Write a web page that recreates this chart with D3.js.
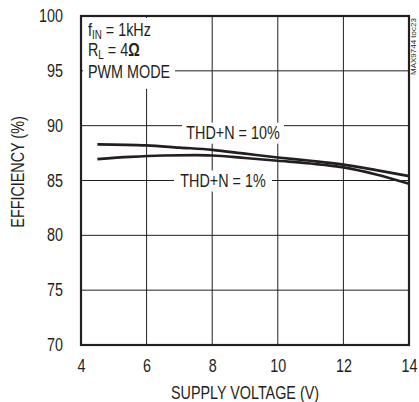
<!DOCTYPE html>
<html><head><meta charset="utf-8">
<script src="https://cdn.jsdelivr.net/npm/d3@7"></script>
<style>body{margin:0;background:#fff;} text{font-family:"Liberation Sans Narrow","Liberation Sans",Arial,sans-serif;fill:#231f20;}</style>
</head><body>
<script>
const xTicks = [4, 6, 8, 10, 12, 14];
const yTicks = [70, 75, 80, 85, 90, 95, 100];
const voltage10 = [4.5, 6, 7, 8, 9, 10, 11, 12, 13, 14];
const eff10 = [88.3, 88.2, 88.0, 87.8, 87.45, 87.1, 86.8, 86.45, 85.95, 85.4];
const voltage1 = [4.5, 5.5, 6.5, 7.5, 8, 9, 10, 11, 12, 13, 14];
const eff1 = [86.95, 87.15, 87.28, 87.32, 87.28, 87.05, 86.8, 86.55, 86.2, 85.55, 84.7];
const seriesLabels = ["THD+N = 10%", "THD+N = 1%"];

const W = 419, H = 402;
const m = {l: 81, r: 10, t: 16, b: 57};
const FS = 17.5, SX = 0.82;
const svg = d3.select("body").append("svg").attr("width", W).attr("height", H);
const x = d3.scaleLinear().domain([4, 14]).range([m.l, W - m.r]);
const y = d3.scaleLinear().domain([70, 100]).range([H - m.b, m.t]);
const ink = "#231f20";

// grid
const g = svg.append("g");
g.selectAll(".vg").data(xTicks.slice(1, -1)).join("line")
  .attr("x1", d => x(d)).attr("x2", d => x(d)).attr("y1", y(100)).attr("y2", y(70))
  .attr("stroke", ink).attr("stroke-width", 1);
g.selectAll(".hg").data(yTicks.slice(1, -1)).join("line")
  .attr("y1", d => y(d)).attr("y2", d => y(d)).attr("x1", x(4)).attr("x2", x(14))
  .attr("stroke", ink).attr("stroke-width", 1);

// condensed text helper
function ctext(parent, px, py, anchor, rot) {
  return parent.append("text")
    .attr("transform", `translate(${px},${py})${rot ? " rotate(" + rot + ")" : ""} scale(${SX},1)`)
    .attr("text-anchor", anchor || "start").attr("font-size", FS);
}

// white knockouts for labels
const knock = svg.append("g").attr("fill", "#fff");
knock.append("rect").attr("x", x(4) + 2).attr("y", y(100) + 2).attr("width", 92).attr("height", y(95) + 16 - y(100));
knock.append("rect").attr("x", 182).attr("y", y(90) - 3).attr("width", 102).attr("height", 21);
knock.append("rect").attr("x", 174).attr("y", y(85) - 10).attr("width", 98).attr("height", 21);

// curves
const line = d3.line().x(d => x(d[0])).y(d => y(d[1])).curve(d3.curveMonotoneX);
svg.append("path").datum(d3.zip(voltage10, eff10)).attr("d", line)
  .attr("fill", "none").attr("stroke", ink).attr("stroke-width", 2.7);
svg.append("path").datum(d3.zip(voltage1, eff1)).attr("d", line)
  .attr("fill", "none").attr("stroke", ink).attr("stroke-width", 2.7);

// frame
svg.append("rect").attr("x", x(4)).attr("y", y(100)).attr("width", x(14) - x(4)).attr("height", y(70) - y(100))
  .attr("fill", "none").attr("stroke", ink).attr("stroke-width", 2.2);

// axes (labels only)
const xa = svg.append("g").attr("transform", `translate(0,${y(70)})`)
  .call(d3.axisBottom(x).tickValues(xTicks).tickSize(0).tickPadding(15));
xa.select(".domain").remove();
xa.selectAll("text").attr("font-size", FS).attr("font-family", null).attr("fill", ink)
  .attr("transform", `scale(${SX},1)`);
const ya = svg.append("g").attr("transform", `translate(${x(4)},0)`)
  .call(d3.axisLeft(y).tickValues(yTicks).tickSize(0));
ya.select(".domain").remove();
ya.selectAll("text").attr("font-size", FS).attr("font-family", null).attr("fill", ink)
  .attr("x", -18 / SX).attr("transform", `scale(${SX},1)`);

// axis titles
ctext(svg, (x(4) + x(14)) / 2, 399, "middle").text("SUPPLY VOLTAGE (V)");
ctext(svg, 24, 172, "middle", -90).text("EFFICIENCY (%)");

// annotations
const t1 = ctext(svg, 88, 36);
t1.append("tspan").text("f");
t1.append("tspan").attr("font-size", 12).attr("dy", 3).text("IN");
t1.append("tspan").attr("dy", -3).text(" = 1kHz");
const t2 = ctext(svg, 88, 56);
t2.append("tspan").text("R");
t2.append("tspan").attr("font-size", 12).attr("dy", 3).text("L");
t2.append("tspan").attr("dy", -3).text(" = 4");
t2.append("tspan").attr("font-weight", "bold").text("Ω");
ctext(svg, 88, y(95) + 7).text("PWM MODE");
ctext(svg, 233, y(90) + 13, "middle").text(seriesLabels[0]);
ctext(svg, 223, y(85) + 6, "middle").text(seriesLabels[1]);

// watermark
svg.append("text").attr("transform", "translate(416,75) rotate(-90)").attr("font-size", 8)
  .attr("fill", "#555").text("MAX9744 toc23");
</script>
</body></html>
